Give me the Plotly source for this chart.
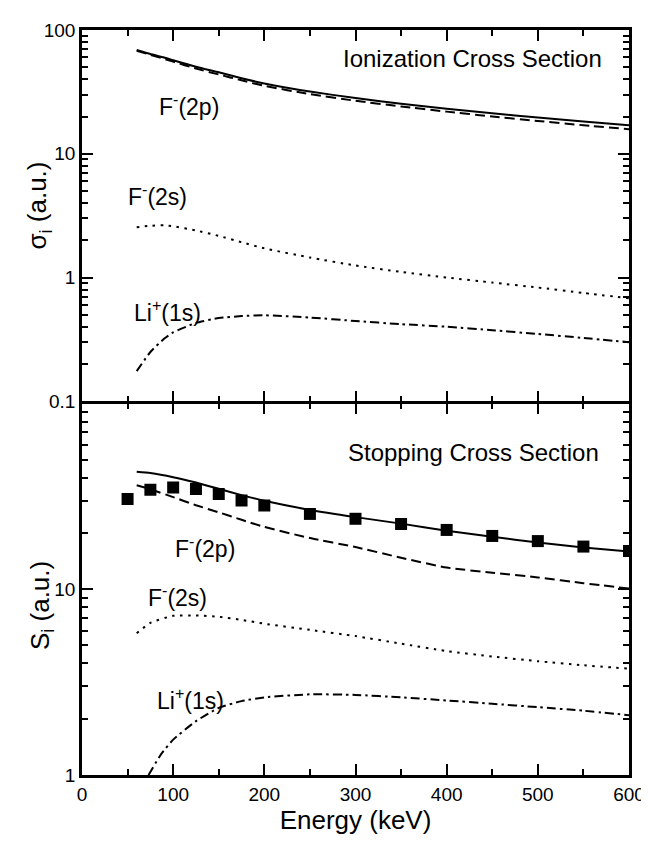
import plotly.graph_objects as go

# ---------------- data ----------------
# Top panel: ionization cross sections sigma_i (a.u.) vs energy (keV)
E_top = [60, 75, 90, 100, 125, 150, 175, 200, 250, 300, 350, 400, 450, 500, 550, 600]
sig_2p_solid = [69, 64, 60, 57, 50.5, 45.5, 40.8, 37.0, 31.8, 28.2, 25.4, 23.1, 21.2, 19.6, 18.2, 17.0]
sig_2p_dash = [68, 63, 58.5, 55.5, 48.8, 43.7, 39.2, 35.4, 30.3, 26.8, 24.1, 21.9, 20.0, 18.4, 17.0, 15.8]
sig_2s = [2.55, 2.62, 2.64, 2.6, 2.4, 2.17, 1.93, 1.72, 1.45, 1.25, 1.11, 1.0, 0.91, 0.83, 0.75, 0.68]
sig_li = [0.175, 0.25, 0.32, 0.36, 0.43, 0.47, 0.488, 0.495, 0.475, 0.445, 0.42, 0.40, 0.375, 0.35, 0.325, 0.30]

# Bottom panel: stopping cross sections S_i (a.u.) vs energy (keV)
E_bot = [60, 75, 100, 125, 150, 175, 200, 250, 300, 350, 400, 450, 500, 550, 600]
S_total = [43.0, 42.3, 40.2, 37.6, 34.8, 32.2, 30.0, 26.8, 24.5, 22.6, 20.7, 19.2, 17.9, 16.8, 16.0]
S_2p = [36.4, 34.6, 31.4, 28.4, 26.0, 23.7, 21.7, 18.9, 16.9, 14.8, 13.1, 12.3, 11.6, 10.8, 10.1]
S_2s = [5.8, 6.6, 7.2, 7.23, 7.12, 6.85, 6.53, 6.05, 5.6, 5.1, 4.65, 4.35, 4.1, 3.9, 3.74]
E_li = [73, 87, 100, 125, 150, 175, 200, 250, 300, 350, 400, 450, 500, 550, 600]
S_li = [1.0, 1.3, 1.55, 1.95, 2.3, 2.5, 2.62, 2.72, 2.7, 2.62, 2.52, 2.42, 2.32, 2.22, 2.1]

# Experimental points (squares)
E_exp = [50, 75, 100, 125, 150, 175, 200, 250, 300, 350, 400, 450, 500, 550, 600]
S_exp = [30.7, 34.4, 35.4, 34.7, 32.6, 30.1, 28.3, 25.5, 24.0, 22.5, 20.9, 19.4, 18.2, 17.0, 16.1]

x_ticks = [0, 100, 200, 300, 400, 500, 600]
top_ticks = [0.1, 1, 10, 100]
top_tick_text = ["0.1", "1", "10", "100"]
bot_ticks = [1, 10, 100]
bot_tick_text = ["1", "10", ""]

# ---------------- figure ----------------
FONT = "Liberation Sans, Arial, Helvetica, sans-serif"
BLACK = "black"
LW = 2
AXLW = 2.5

fig = go.Figure()

def line(x, y, dash, xa, ya):
    fig.add_trace(go.Scatter(x=x, y=y, mode="lines", xaxis=xa, yaxis=ya,
                             line=dict(color=BLACK, width=LW, dash=dash, shape="spline", smoothing=0.5),
                             showlegend=False, hoverinfo="skip"))

DASH = "10px,5px"
DOT = "2.5px,5.5px"
DASHDOT = "9px,4px,2.5px,4px"

# top panel (x2, y2)
line(E_top, sig_2p_solid, "solid", "x2", "y2")
line(E_top, sig_2p_dash, DASH, "x2", "y2")
line(E_top, sig_2s, DOT, "x2", "y2")
line(E_top, sig_li, DASHDOT, "x2", "y2")

# bottom panel (x, y)
line(E_bot, S_total, "solid", "x", "y")
line(E_bot, S_2p, DASH, "x", "y")
line(E_bot, S_2s, DOT, "x", "y")
line(E_li, S_li, DASHDOT, "x", "y")
fig.add_trace(go.Scatter(x=E_exp, y=S_exp, mode="markers", xaxis="x", yaxis="y",
                         marker=dict(symbol="square", size=12, color=BLACK),
                         showlegend=False, hoverinfo="skip"))

minor_top = [m * 10 ** k for k in (-1, 0, 1) for m in range(2, 10)]
minor_bot = [m * 10 ** k for k in (0, 1) for m in range(2, 10)]

axis_common = dict(showline=True, linecolor=BLACK, linewidth=AXLW, mirror="ticks",
                   ticks="inside", tickcolor=BLACK, tickwidth=2, ticklen=11,
                   showgrid=False, zeroline=False,
                   tickfont=dict(family=FONT, size=19, color=BLACK))

PLOT_H = 846 - 12 - 79
half_gap = (AXLW / 2) / PLOT_H

fig.update_layout(
    width=649, height=846,
    margin=dict(l=74, r=17, t=12, b=79),
    paper_bgcolor="white", plot_bgcolor="white",
    font=dict(family=FONT, color=BLACK),
    xaxis=dict(domain=[0, 1], range=[0, 600], tickvals=x_ticks, anchor="y",
               minor=dict(dtick=50, tick0=0, ticks="inside", ticklen=6, tickwidth=2, tickcolor=BLACK),
               title=dict(text="Energy (keV)", font=dict(family=FONT, size=26, color=BLACK), standoff=3),
               **axis_common),
    xaxis2=dict(domain=[0, 1], range=[0, 600], tickvals=x_ticks, anchor="y2", matches="x",
                showticklabels=False,
                minor=dict(dtick=50, tick0=0, ticks="inside", ticklen=6, tickwidth=2, tickcolor=BLACK),
                **axis_common),
    yaxis=dict(domain=[0, 0.5 - half_gap], type="log", range=[0, 2], anchor="x",
               tickvals=bot_ticks, ticktext=bot_tick_text,
               minor=dict(tickvals=minor_bot, ticks="inside", ticklen=6, tickwidth=2, tickcolor=BLACK),
               **axis_common),
    yaxis2=dict(domain=[0.5 + half_gap, 1], type="log", range=[-1, 2], anchor="x2",
                tickvals=top_ticks, ticktext=top_tick_text,
                minor=dict(tickvals=minor_top, ticks="inside", ticklen=6, tickwidth=2, tickcolor=BLACK),
                **axis_common),
)

def px_x(px):
    return (px - 74) / 558.0

def px_y(py):
    return (767 - py) / 755.0

LAB = 23
annotations = [
    ("F<sup>-</sup>(2p)", 151, 88, "left", LAB),
    ("F<sup>-</sup>(2s)", 119, 179, "left", LAB),
    ("Li<sup>+</sup>(1s)", 125, 297, "left", LAB),
    ("Ionization Cross Section", 607, 41, "right", 24),
    ("Stopping Cross Section", 603, 440, "right", 24),
    ("F<sup>-</sup>(2p)", 167, 536, "left", LAB),
    ("F<sup>-</sup>(2s)", 139, 586, "left", LAB),
    ("Li<sup>+</sup>(1s)", 148, 690, "left", LAB),
]
for text, x, y, anchor, size in annotations:
    fig.add_annotation(text=text, xref="paper", yref="paper", x=px_x(x), y=px_y(y),
                       xanchor=anchor, yanchor="middle", showarrow=False,
                       font=dict(family=FONT, size=size, color=BLACK))

# y-axis titles
fig.add_annotation(text="σ<sub>i</sub> (a.u.)", xref="paper", yref="paper",
                   x=px_x(30), y=px_y(190), xanchor="center", yanchor="middle",
                   textangle=-90, showarrow=False, font=dict(family=FONT, size=26, color=BLACK))
fig.add_annotation(text="S<sub>i</sub> (a.u.)", xref="paper", yref="paper",
                   x=px_x(32), y=px_y(595), xanchor="center", yanchor="middle",
                   textangle=-90, showarrow=False, font=dict(family=FONT, size=26, color=BLACK))

fig.write_html("out.html")
